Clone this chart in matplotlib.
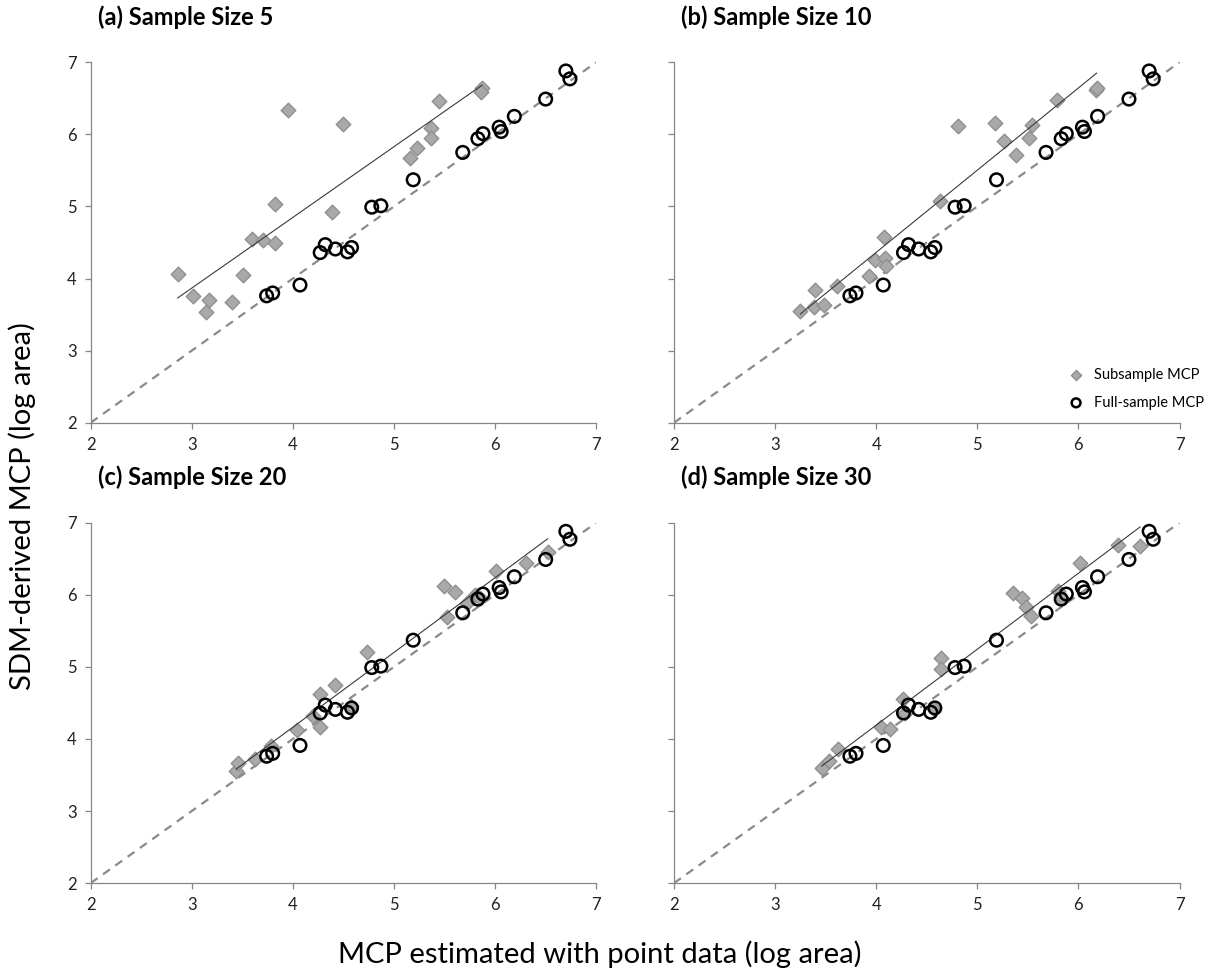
import numpy as np
import matplotlib.pyplot as plt

plt.rcParams['font.family'] = ['Lato', 'DejaVu Sans']

# full-sample MCP (same in every panel)
full_x = [3.74, 3.80, 4.07, 4.27, 4.32, 4.42, 4.54, 4.58, 4.78, 4.87,
          5.19, 5.68, 5.83, 5.88, 6.04, 6.06, 6.19, 6.50, 6.70, 6.74]
full_y = [3.76, 3.80, 3.91, 4.36, 4.47, 4.41, 4.37, 4.43, 4.99, 5.01,
          5.37, 5.75, 5.94, 6.01, 6.10, 6.04, 6.25, 6.49, 6.88, 6.77]

# subsample MCP, one pair of lists per sample size
sub5_x = [2.86, 3.01, 3.17, 3.14, 3.40, 3.51, 3.60, 3.70, 3.82, 3.82,
          3.95, 4.39, 4.50, 5.16, 5.23, 5.37, 5.37, 5.45, 5.87, 5.86]
sub5_y = [4.06, 3.76, 3.70, 3.54, 3.68, 4.05, 4.55, 4.54, 4.50, 5.03,
          6.34, 4.92, 6.15, 5.67, 5.81, 6.09, 5.95, 6.47, 6.65, 6.59]

sub10_x = [3.25, 3.38, 3.39, 3.48, 3.61, 3.93, 3.99, 4.09, 4.10, 4.08,
           4.63, 4.81, 5.18, 5.26, 5.38, 5.51, 5.54, 5.79, 6.17, 6.18]
sub10_y = [3.55, 3.61, 3.84, 3.63, 3.90, 4.04, 4.26, 4.28, 4.18, 4.58,
           5.07, 6.12, 6.16, 5.91, 5.71, 5.95, 6.13, 6.48, 6.62, 6.64]

sub20_x = [3.44, 3.46, 3.63, 3.78, 4.04, 4.20, 4.27, 4.27, 4.42, 4.57,
           4.73, 5.49, 5.60, 5.52, 5.72, 5.80, 5.85, 6.01, 6.31, 6.52]
sub20_y = [3.56, 3.67, 3.72, 3.90, 4.12, 4.32, 4.16, 4.63, 4.75, 4.46,
           5.20, 6.12, 6.04, 5.69, 5.88, 6.00, 5.96, 6.33, 6.44, 6.60]

sub30_x = [3.46, 3.53, 3.62, 4.05, 4.14, 4.27, 4.28, 4.56, 4.64, 4.64,
           5.35, 5.44, 5.48, 5.53, 5.80, 5.84, 6.02, 6.39, 6.61]
sub30_y = [3.60, 3.69, 3.86, 4.16, 4.14, 4.56, 4.36, 4.43, 5.12, 4.97,
           6.03, 5.95, 5.83, 5.71, 6.05, 5.96, 6.44, 6.69, 6.68]

titles = ['(a) Sample Size 5', '(b) Sample Size 10',
          '(c) Sample Size 20', '(d) Sample Size 30']
subsamples = [(sub5_x, sub5_y), (sub10_x, sub10_y),
              (sub20_x, sub20_y), (sub30_x, sub30_y)]
ticks = [2, 3, 4, 5, 6, 7]

fig = plt.figure(figsize=(12.24, 9.76), dpi=100)

W, H = 1224, 976
boxes = [(90.7, 62.3), (674, 62.3), (90.7, 522.7), (674, 522.7)]
ax_w, ax_h = 505.5, 360.4

spine_grey = '#868686'

for i, (title, (sx, sy)) in enumerate(zip(titles, subsamples)):
    left, top = boxes[i]
    ax = fig.add_axes([left / W, 1 - (top + ax_h) / H, ax_w / W, ax_h / H])

    # 1:1 reference line
    ax.plot([2, 7], [2, 7], color='#8a8a8a', lw=1.6, ls=(0, (3.8, 3)), zorder=1)

    ax.scatter(sx, sy, marker='D', s=55, facecolor='#a9a9a9',
               edgecolor='#8f8f8f', linewidth=1.0, zorder=2,
               label='Subsample MCP')

    # linear trend of the subsample values
    slope, icpt = np.polyfit(sx, sy, 1)
    xs = np.array([min(sx), max(sx)])
    ax.plot(xs, slope * xs + icpt, color='#3a3a3a', lw=0.8, zorder=3)

    ax.scatter(full_x, full_y, marker='o', s=82, facecolor='none',
               edgecolor='black', linewidth=1.8, zorder=4,
               label='Full-sample MCP')

    ax.set_xlim(2, 7)
    ax.set_ylim(2, 7)
    ax.set_xticks(ticks)
    ax.set_yticks(ticks)
    for side in ['top', 'right']:
        ax.spines[side].set_visible(False)
    for side in ['left', 'bottom']:
        ax.spines[side].set_color(spine_grey)
        ax.spines[side].set_linewidth(0.9)
    ax.tick_params(direction='out', length=4, width=0.9, color=spine_grey,
                   labelsize=12, labelcolor='#222222', pad=6)
    if i % 2 == 1:
        ax.tick_params(axis='y', labelleft=False)

    fig.text((left + 7) / W, 1 - (top - 45) / H, title, fontsize=17,
             fontweight='bold', ha='left', va='center')

    if i == 1:
        ax.legend(loc='lower left', bbox_to_anchor=(0.755, 0.02),
                  frameon=False, fontsize=10.5, handletextpad=0.2,
                  labelspacing=0.95, borderaxespad=0, scatterpoints=1,
                  markerscale=0.7)

fig.text(0.018, 0.482, 'SDM-derived MCP (log area)', rotation=90,
         fontsize=21, ha='center', va='center')
fig.text(0.49, 0.022, 'MCP estimated with point data (log area)',
         fontsize=21, ha='center', va='center')

fig.savefig('out.png', dpi=100)
